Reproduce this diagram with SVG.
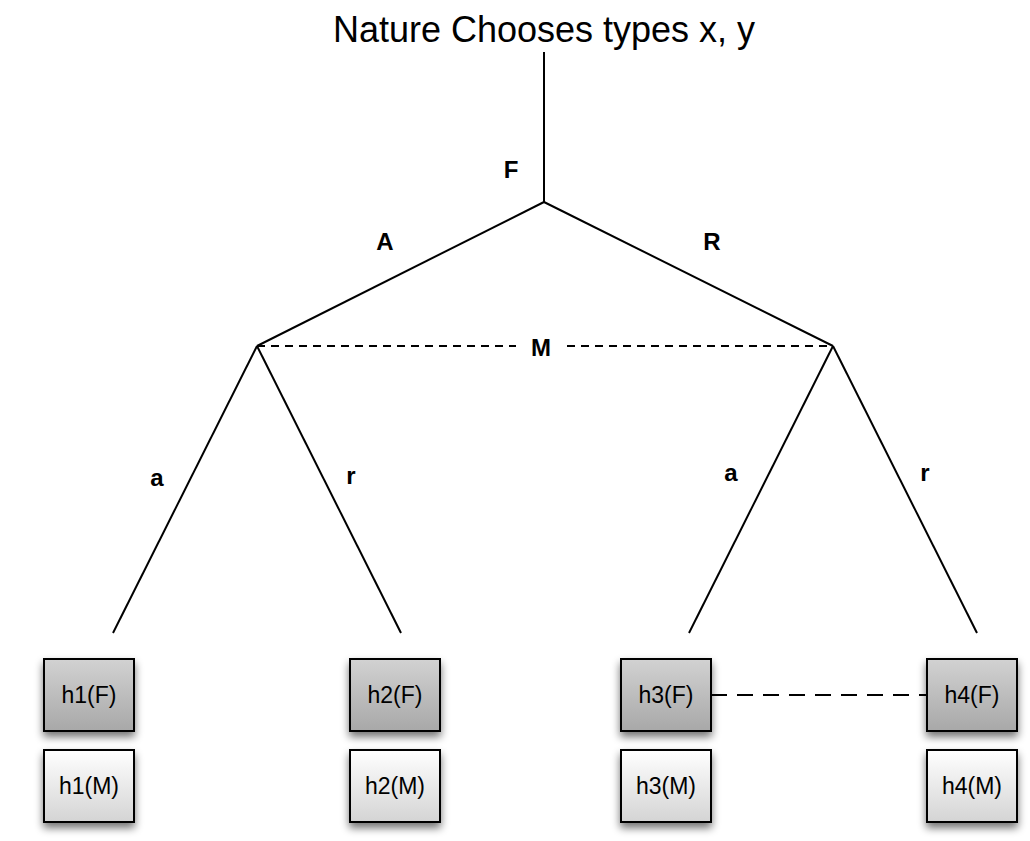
<svg xmlns="http://www.w3.org/2000/svg" width="1030" height="841" viewBox="0 0 1030 841">
<defs>
<linearGradient id="gF" x1="0" y1="0" x2="0" y2="1"><stop offset="0" stop-color="#d2d2d2"/><stop offset="1" stop-color="#a8a8a8"/></linearGradient>
<linearGradient id="gM" x1="0" y1="0" x2="0" y2="1"><stop offset="0" stop-color="#ffffff"/><stop offset="1" stop-color="#d4d4d4"/></linearGradient>
<filter id="sh" x="-30%" y="-30%" width="160%" height="170%"><feGaussianBlur in="SourceAlpha" stdDeviation="4"/><feOffset dx="0" dy="5"/><feComponentTransfer><feFuncA type="linear" slope="0.55"/></feComponentTransfer><feMerge><feMergeNode/><feMergeNode in="SourceGraphic"/></feMerge></filter>
</defs>
<style>
.e{stroke:#000;stroke-width:2;fill:none}
.d{stroke:#000;stroke-width:2;fill:none;stroke-dasharray:8 6}
.d2{stroke:#000;stroke-width:2;fill:none;stroke-dasharray:16 10}
.lb{font-family:"Liberation Sans",Arial,sans-serif;font-weight:bold;font-size:24px;text-anchor:middle}
.bt{font-family:"Liberation Sans",Arial,sans-serif;font-size:23px;text-anchor:middle}
.bf{fill:url(#gF);stroke:#000;stroke-width:2;filter:url(#sh)}
.bm{fill:url(#gM);stroke:#000;stroke-width:2;filter:url(#sh)}
</style>
<rect width="1030" height="841" fill="#fff"/>
<text x="544" y="42" font-family="Liberation Sans, Arial, sans-serif" font-size="36" text-anchor="middle">Nature Chooses types x, y</text>
<g id="connectors">
<line class="e" x1="544" y1="52" x2="544" y2="202"/>
<line class="e" x1="544" y1="202" x2="257" y2="346"/>
<line class="e" x1="544" y1="202" x2="833" y2="346"/>
<line class="e" x1="257" y1="346" x2="113" y2="633"/>
<line class="e" x1="257" y1="346" x2="401" y2="633"/>
<line class="e" x1="833" y1="346" x2="689" y2="633"/>
<line class="e" x1="833" y1="346" x2="977" y2="633"/>
<line class="d" x1="257" y1="346" x2="516" y2="346"/>
<line class="d" x1="567" y1="346" x2="833" y2="346"/>
<line class="d2" x1="711" y1="695" x2="927" y2="695"/>
</g>
<g id="labels">
<text class="lb" x="511" y="178">F</text>
<text class="lb" x="385" y="250">A</text>
<text class="lb" x="712" y="250">R</text>
<text class="lb" x="541" y="356">M</text>
<text class="lb" x="157" y="486">a</text>
<text class="lb" x="351" y="484">r</text>
<text class="lb" x="731" y="481">a</text>
<text class="lb" x="925" y="481">r</text>
</g>
<g id="h1F"><rect class="bf" x="44" y="659" width="90" height="72"/><text class="bt" x="89" y="703">h1(F)</text></g>
<g id="h1M"><rect class="bm" x="44" y="750" width="90" height="72"/><text class="bt" x="89" y="794">h1(M)</text></g>
<g id="h2F"><rect class="bf" x="350" y="659" width="90" height="72"/><text class="bt" x="395" y="703">h2(F)</text></g>
<g id="h2M"><rect class="bm" x="350" y="750" width="90" height="72"/><text class="bt" x="395" y="794">h2(M)</text></g>
<g id="h3F"><rect class="bf" x="621" y="659" width="90" height="72"/><text class="bt" x="666" y="703">h3(F)</text></g>
<g id="h3M"><rect class="bm" x="621" y="750" width="90" height="72"/><text class="bt" x="666" y="794">h3(M)</text></g>
<g id="h4F"><rect class="bf" x="927" y="659" width="90" height="72"/><text class="bt" x="972" y="703">h4(F)</text></g>
<g id="h4M"><rect class="bm" x="927" y="750" width="90" height="72"/><text class="bt" x="972" y="794">h4(M)</text></g>
</svg>
